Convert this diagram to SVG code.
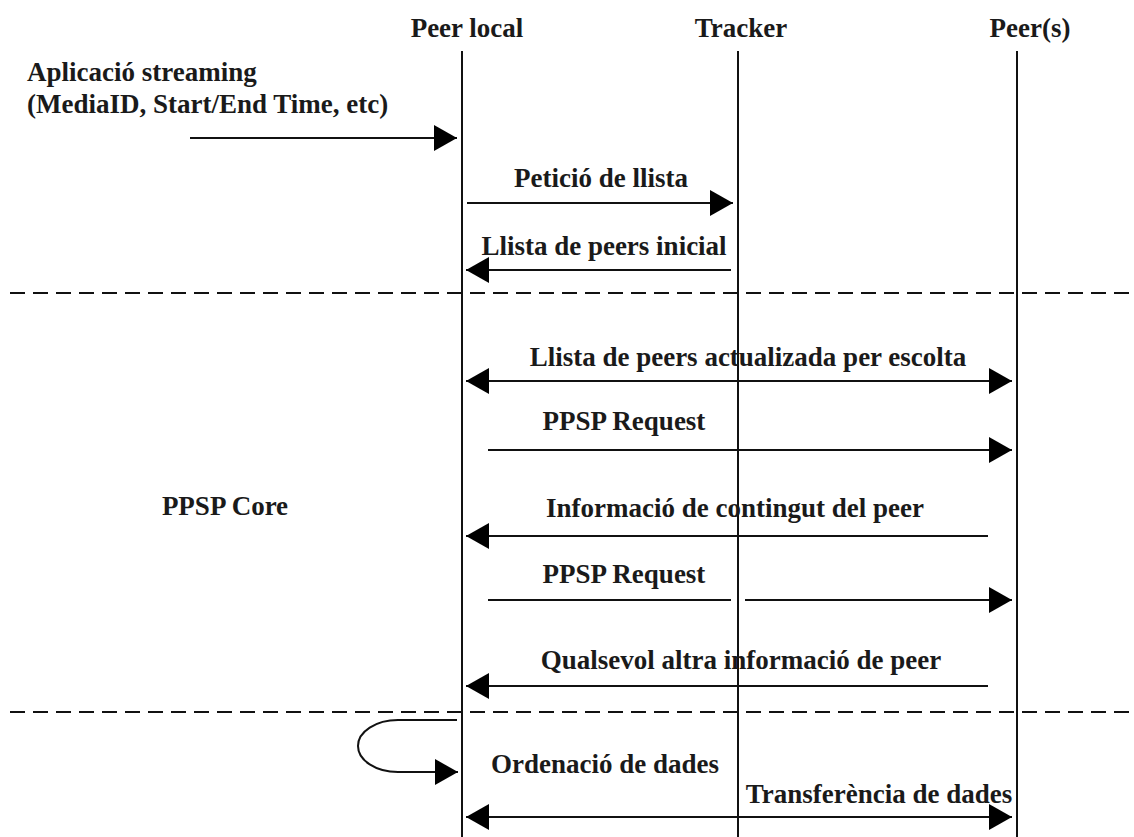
<svg xmlns="http://www.w3.org/2000/svg" width="1134" height="837" viewBox="0 0 1134 837">
  <style>
    .lbl { font-family: "Liberation Serif", "Times New Roman", serif; font-weight: bold; font-size: 27px; fill: #1a1a1a; }
    .mid { text-anchor: middle; }
    .life { stroke: #111; stroke-width: 2; }
    .msg { stroke: #111; stroke-width: 2; fill: none; }
    .sep { stroke: #111; stroke-width: 2; stroke-dasharray: 15 8; }
  </style>
  <defs>
    <marker id="head" markerUnits="userSpaceOnUse" markerWidth="24" markerHeight="28" refX="23" refY="13" orient="auto-start-reverse">
      <path d="M0,0 L23,13 L0,26 Z" fill="#000"/>
    </marker>
  </defs>
  <rect width="1134" height="837" fill="#fff"/>

  <!-- participants -->
  <g id="peer-local">
    <text class="lbl mid" x="467" y="37">Peer local</text>
    <line class="life" x1="462" y1="51" x2="462" y2="837"/>
  </g>
  <g id="tracker">
    <text class="lbl mid" x="741" y="37">Tracker</text>
    <line class="life" x1="738" y1="51" x2="738" y2="837"/>
  </g>
  <g id="peers">
    <text class="lbl mid" x="1030" y="37">Peer(s)</text>
    <line class="life" x1="1017" y1="51" x2="1017" y2="837"/>
  </g>

  <!-- phase separators -->
  <g id="separators">
    <line class="sep" x1="10" y1="293" x2="1134" y2="293"/>
    <line class="sep" x1="10" y1="712" x2="1134" y2="712"/>
  </g>

  <g id="app">
    <text class="lbl" x="27" y="81">Aplicació streaming</text>
    <text class="lbl" x="27" y="113">(MediaID, Start/End Time, etc)</text>
  </g>
  <g id="core">
    <text class="lbl mid" x="225" y="515">PPSP Core</text>
  </g>

  <!-- messages -->
  <g id="connectors">
    <line class="msg" x1="190" y1="138" x2="457" y2="138" marker-end="url(#head)"/>
    <line class="msg" x1="467" y1="203" x2="733" y2="203" marker-end="url(#head)"/>
    <line class="msg" x1="731" y1="270" x2="466" y2="270" marker-end="url(#head)"/>
    <line class="msg" x1="466" y1="381" x2="1012" y2="381" marker-start="url(#head)" marker-end="url(#head)"/>
    <line class="msg" x1="488" y1="450" x2="1012" y2="450" marker-end="url(#head)"/>
    <line class="msg" x1="988" y1="536" x2="466" y2="536" marker-end="url(#head)"/>
    <line class="msg" x1="488" y1="600" x2="731" y2="600"/>
    <line class="msg" x1="745" y1="600" x2="1012" y2="600" marker-end="url(#head)"/>
    <line class="msg" x1="988" y1="686" x2="466" y2="686" marker-end="url(#head)"/>
    <path class="msg" d="M457,720 L398,720 A40,26 0 0 0 398,772 L458,772" marker-end="url(#head)"/>
    <line class="msg" x1="466" y1="817" x2="1012" y2="817" marker-start="url(#head)" marker-end="url(#head)"/>
  </g>

  <g id="labels">
    <text class="lbl mid" x="601" y="187">Petició de llista</text>
    <text class="lbl mid" x="604" y="255">Llista de peers inicial</text>
    <text class="lbl mid" x="748" y="366">Llista de peers actualizada per escolta</text>
    <text class="lbl mid" x="624" y="430">PPSP Request</text>
    <text class="lbl mid" x="735" y="517">Informació de contingut del peer</text>
    <text class="lbl mid" x="624" y="583">PPSP Request</text>
    <text class="lbl mid" x="741" y="669">Qualsevol altra informació de peer</text>
    <text class="lbl mid" x="605" y="773">Ordenació de dades</text>
    <text class="lbl mid" x="879" y="803">Transferència de dades</text>
  </g>
</svg>
